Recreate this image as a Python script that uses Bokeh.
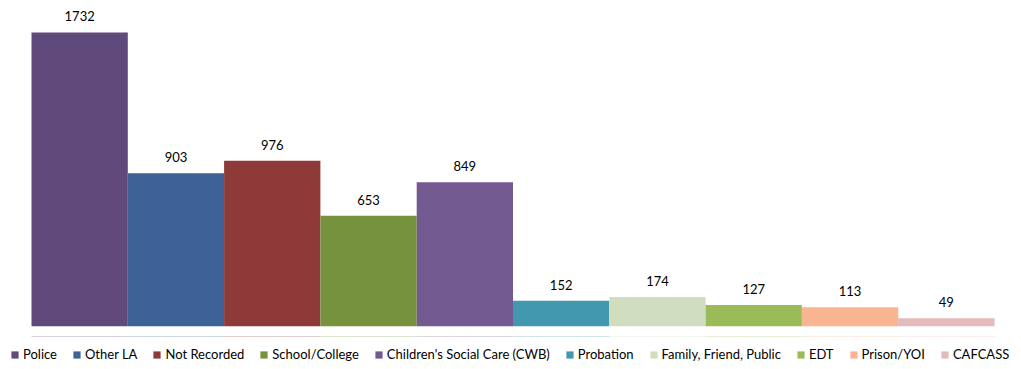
from bokeh.plotting import figure
from bokeh.layouts import column
from bokeh.models import Range1d, ColumnDataSource, Legend, LegendItem
from bokeh.core.properties import value
from bokeh.embed import file_html
from bokeh.resources import INLINE

categories = ["Police", "Other LA", "Not Recorded", "School/College",
              "Children's Social Care (CWB)", "Probation", "Family, Friend, Public",
              "EDT", "Prison/YOI", "CAFCASS"]
counts = [1732, 903, 976, 653, 849, 152, 174, 127, 113, 49]
colors = ["#604A7B", "#3C6296", "#8E3A38", "#77923C", "#735A91",
          "#4298AF", "#D0DEBF", "#9BBB59", "#F9B590", "#E4BBBB"]

n = len(categories)
W = 1021
pad_left, pad_right = 31, 27
bar_px = (W - pad_left - pad_right) / n
x_start = -pad_left / bar_px
x_end = n + pad_right / bar_px

xs = [i + 0.5 for i in range(n)]
src = ColumnDataSource(dict(x=xs, top=counts, color=colors, cat=categories,
                            label=[str(c) for c in counts]))

p = figure(width=W, height=336, output_backend="svg", toolbar_location=None,
           x_range=Range1d(x_start, x_end), y_range=Range1d(0, 1920),
           min_border_left=0, min_border_right=0, min_border_top=0, min_border_bottom=10)
p.xaxis.visible = False
p.yaxis.visible = False
p.xgrid.visible = False
p.ygrid.visible = False
p.outline_line_color = None

p.vbar(x="x", top="top", width=1.0, bottom=0, fill_color="color",
       line_color=None, source=src)

p.text(x="x", y="top", text="label", source=src, text_align="center",
       text_baseline="middle", y_offset=-16, text_font=value("Lato"),
       text_font_size="13px", text_color="#000000")

# legend strip (bars drawn here lie far outside its visible y range)
p2 = figure(width=W, height=33, output_backend="svg", toolbar_location=None,
            x_range=Range1d(x_start, x_end), y_range=Range1d(-20, -19),
            min_border_left=0, min_border_right=0, min_border_top=0, min_border_bottom=0)
p2.xaxis.visible = False
p2.yaxis.visible = False
p2.xgrid.visible = False
p2.ygrid.visible = False
p2.outline_line_color = None

items = []
for i in range(n):
    r = p2.vbar(x=[xs[i]], top=[counts[i]], width=1.0, bottom=0,
                fill_color=colors[i], line_color=None)
    items.append(LegendItem(label=categories[i], renderers=[r]))

legend = Legend(items=items, orientation="horizontal", location=(10, 7),
                glyph_width=9, glyph_height=9, label_text_font="Lato",
                label_text_font_size="13px", label_text_color="#000000",
                spacing=15, label_standoff=4, padding=0, margin=0,
                border_line_color=None, background_fill_alpha=0)
p2.add_layout(legend, "center")

layout = column(p, p2, spacing=0)
open("out.html", "w").write(file_html(layout, INLINE))
